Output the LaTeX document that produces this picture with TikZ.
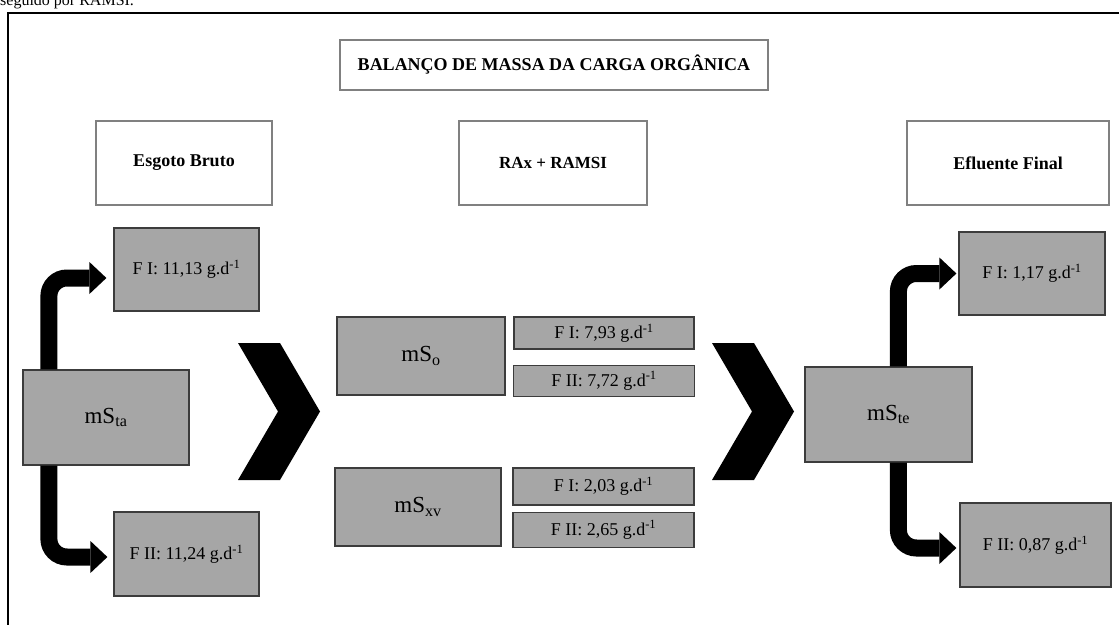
\documentclass[tikz,border=0pt]{standalone}
\usepackage{fontspec}
\setmainfont{Liberation Serif}
\usetikzlibrary{positioning,arrows.meta}

\definecolor{boxgray}{RGB}{166,166,166}
\definecolor{edgegray}{RGB}{60,60,60}
\newcommand{\gd}{g.d\textsuperscript{-1}}

\begin{document}
\begin{tikzpicture}[
  x=1pt, y=-1pt,
  head/.style={draw=black!50, line width=1.3pt, fill=white, align=center,
               font=\fontsize{18}{21}\selectfont\bfseries},
  val/.style={draw=edgegray, line width=1.2pt, fill=boxgray, inner sep=0pt,
              font=\fontsize{18}{21}\selectfont},
  mass/.style={val, font=\fontsize{23}{26}\selectfont},
  flow/.style={line width=17pt, rounded corners=18pt,
               -{Triangle[length=17pt, width=32pt, line width=0pt]}}
]
  \useasboundingbox (0,0) rectangle (1119,624);

  % texto cortado e moldura
  \node[anchor=base west, inner sep=0pt, font=\fontsize{16}{18}\selectfont] (prev) at (0,5) {seguido por RAMSI.};
  \draw[line width=2pt] (8,630) -- (8,13) -- (1125,13);

  % titulo e colunas
  \node[head, minimum width=428pt, minimum height=50pt] (title) at (554,65) {BALANÇO DE MASSA DA CARGA ORGÂNICA};
  \node[head, minimum width=176pt, minimum height=84pt] (bruto) at (184,163) {Esgoto Bruto};
  \node[head, minimum width=188pt, minimum height=84pt, font=\fontsize{17}{20}\selectfont\bfseries] (rax) at (553,163) {RAx + RAMSI};
  \node[head, minimum width=202pt, minimum height=84pt] (final) at (1008,163) {Efluente Final};

  % esgoto bruto
  \node[mass, minimum width=166pt, minimum height=95pt] (msta) at (106,417.5) {mS\textsubscript{ta}};
  \node[val, minimum width=145pt, minimum height=83pt] (fi1) at (186.5,269.5) {F I: 11,13 \gd};
  \node[val, minimum width=145pt, minimum height=84pt] (fii1) at (186.5,554) {F II: 11,24 \gd};

  % reatores
  \node[mass, minimum width=168pt, minimum height=78pt] (mso) at (421,356) {mS\textsubscript{o}};
  \node[val, minimum width=180pt, minimum height=32pt] (fi2) at (604,333) {F I: 7,93 \gd};
  \node[val, minimum width=181pt, minimum height=31pt, below=15pt of fi2] (fii2) {F II: 7,72 \gd};
  \node[mass, minimum width=166pt, minimum height=78pt] (msxv) at (418,507) {mS\textsubscript{xv}};
  \node[val, minimum width=181pt, minimum height=37pt] (fi3) at (603.5,486.5) {F I: 2,03 \gd};
  \node[val, minimum width=181pt, minimum height=35pt, below=6pt of fi3] (fii3) {F II: 2,65 \gd};

  % efluente final
  \node[mass, minimum width=167pt, minimum height=95pt] (mste) at (888.5,414.5) {mS\textsubscript{te}};
  \node[val, minimum width=146pt, minimum height=83pt] (fi4) at (1032,273.5) {F I: 1,17 \gd};
  \node[val, minimum width=151pt, minimum height=84pt] (fii4) at (1035.5,545) {F II: 0,87 \gd};

  % setas grandes
  \foreach \cx in {238,712}
    \fill[shift={(\cx,0)}] (0,343) -- (42,343) -- (82,411.5) -- (42,480) -- (0,480) -- (40,411.5) -- cycle;

  % divisao das cargas
  \draw[flow] ([xshift=26.5pt]msta.north west) |- ([xshift=-7pt,yshift=-8.5pt]fi1.west);
  \draw[flow] ([xshift=26.5pt]msta.south west) |- ([xshift=-6pt,yshift=-3pt]fii1.west);
  \draw[flow] ([xshift=94pt]mste.north west) |- ([xshift=-2pt]fi4.west);
  \draw[flow] ([xshift=94pt]mste.south west) |- ([xshift=-3pt,yshift=-3pt]fii4.west);
\end{tikzpicture}
\end{document}
